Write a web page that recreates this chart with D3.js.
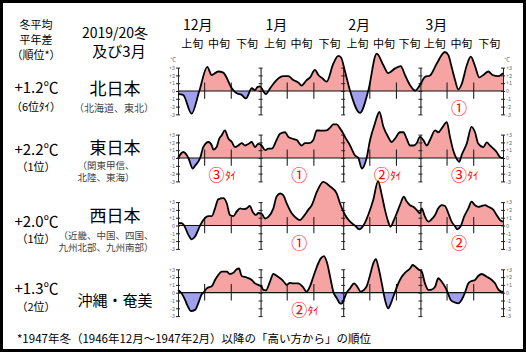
<!DOCTYPE html>
<html><head><meta charset="utf-8">
<script src="https://cdn.jsdelivr.net/npm/d3@7"></script>
<style>body{margin:0;background:#fff}svg{display:block}text{font-family:"Noto Sans CJK JP","Noto Sans",sans-serif}</style>
</head><body><svg id="c" width="526" height="352"></svg>
<script>
// ---- data ----
const months = ["12月","1月","2月","3月"];
const monthStartDays = [0,31,62,91];
const totalDays = 122;
const decadeLabels = ["上旬","中旬","下旬"];
const decadeBoundaryDays = [10,20,41,51,72,82,101,111];
const yTicks = [3,2,1,0,-1,-2,-3];
const headerLines = ["冬平均","平年差","（順位*）"];
const titleLines = ["2019/20冬","及び3月"];
const regionNames = ["北日本","東日本","西日本","沖縄・奄美"];
const regionSubs = [["（北海道、東北）"],["（関東甲信、","北陸、東海）"],["（近畿、中国、四国、","九州北部、九州南部）"],[]];
const anomalies = ["+1.2℃","+2.2℃","+2.0℃","+1.3℃"];
const ranks = ["（6位ﾀｲ）","（1位）","（1位）","（2位）"];
// [month index, circled rank, suffix]
const monthRanks = [
  [[3,"①",""]],
  [[0,"③","ﾀｲ"],[1,"①",""],[2,"②","ﾀｲ"],[3,"③","ﾀｲ"]],
  [[1,"①",""],[3,"②",""]],
  [[1,"②","ﾀｲ"]]
];
const footnote = "*1947年冬（1946年12月～1947年2月）以降の「高い方から」の順位";

// [day from Dec 1, anomaly °C]
const north = [[0,-0.4],[1.9,-0.5],[5.1,-2.9],[8.0,0],[11.0,3.1],[12.6,2.05],[15.1,2.5],[17.0,2.35],[17.6,2.1],[20.2,0.35],[22.0,-0.3],[23.9,-0.5],[25.5,-0.95],[27.7,0.35],[28.9,0.1],[29.8,0.5],[30.8,0.6],[32.0,0],[33.0,-0.4],[34.5,0.3],[37.0,1.4],[39.5,1.9],[41.4,1.9],[43.3,1.4],[45.2,1.07],[46.4,0.7],[48.3,1.4],[49.5,1.7],[51.4,2.7],[52.7,2.05],[54.3,1.6],[55.8,1.2],[58.3,3.5],[60.2,4.5],[61.2,4.3],[62.7,2.5],[64.6,0],[68.3,-2.8],[71.4,0],[74.6,4.8],[77.1,3.3],[78.9,2.3],[81.5,2.9],[83.6,3.2],[85.2,2.05],[87.1,0.75],[89.0,0.05],[90.8,0.75],[92.7,1.8],[94.6,2.0],[97.1,3.5],[100.2,5.0],[101.5,4.6],[102.7,3.1],[104.0,1.4],[105.2,0.2],[106.5,0.9],[108.4,3.3],[109.9,4.4],[111.5,3.2],[113.1,1.75],[114.6,2.05],[116.5,2.5],[118.1,2.05],[120.2,1.9],[122,2.3]];
const east = [[0,0],[2.0,0.77],[3.9,0],[5.5,-1.36],[6.4,-1.0],[8.3,0],[9.5,1.4],[11.4,2.05],[12.7,1.6],[13.3,1.07],[14.5,1.4],[15.5,2.5],[16.4,2.9],[17.6,3.55],[18.9,2.5],[20.2,2.05],[21.4,1.4],[22.6,1.6],[23.9,1.9],[25.2,1.6],[26.4,1.8],[27.7,2.05],[28.9,1.4],[30.1,1.8],[31.4,1.6],[32.7,1.0],[33.9,1.2],[35.2,1.2],[37.0,2.3],[38.3,3.1],[40.2,3.3],[41.4,2.7],[42.7,2.5],[44.6,2.3],[46.4,1.6],[47.7,1.9],[49.3,1.9],[50.8,2.3],[52.1,3.55],[53.9,3.5],[55.8,3.55],[57.1,3.9],[58.3,4.3],[59.6,4.3],[60.8,3.8],[62.1,3.1],[62.7,2.7],[64.6,1.6],[66.4,0.35],[67.7,0],[69.0,-1.36],[70.8,0],[72.1,2.3],[73.9,4.4],[75.6,5.9],[77.1,4.0],[78.9,2.7],[80.2,2.05],[81.5,2.5],[83.3,3.3],[84.6,3.3],[85.8,2.5],[87.1,1.6],[88.3,1.6],[89.6,1.9],[90.8,2.7],[92.1,2.3],[93.4,1.6],[94.6,2.3],[96.5,3.55],[97.7,3.3],[99.0,3.8],[100.9,4.6],[102.1,2.7],[103.3,1.0],[104.6,-0.1],[105.6,-0.5],[106.5,0.4],[108.4,1.85],[110.2,4.0],[111.5,3.3],[112.7,1.85],[114.6,1.4],[115.9,2.0],[117.1,1.6],[118.4,1.2],[119.6,0.77],[120.9,0.1],[122,0]];
const west = [[0,0.3],[1.4,0.3],[2.3,0],[3.9,-1.2],[5.1,-1.77],[6.4,-1.4],[8.3,0],[9.5,0.7],[11.4,1.2],[12.7,1.2],[13.9,2.2],[15.1,3.35],[17.0,3.5],[18.3,2.85],[19.5,1.35],[20.8,1.2],[22.0,1.77],[23.3,2.2],[24.5,2.1],[25.8,2.2],[27.0,2.5],[28.0,1.77],[29.3,1.35],[30.1,1.6],[31.4,1.5],[32.7,0.9],[33.9,1.1],[35.8,2.2],[37.0,3.7],[38.3,4.1],[39.5,3.9],[40.8,2.85],[42.7,1.56],[44.6,0.9],[45.8,0.7],[47.0,1.1],[48.9,2.0],[50.2,2.6],[52.1,4.3],[54.5,5.6],[57.1,5.0],[59.6,4.1],[60.8,2.85],[62.7,1.35],[64.6,0.5],[66.4,0],[68.1,-0.5],[69.6,0],[71.4,1.35],[73.3,3.3],[75.1,5.7],[76.5,3.9],[77.7,2.0],[78.9,0.5],[79.8,-0.15],[80.8,0.5],[82.1,1.56],[83.3,2.6],[84.8,3.7],[85.8,3.1],[87.1,2.6],[88.3,2.4],[89.6,2.0],[90.8,1.56],[91.5,2.2],[92.7,1.13],[94.0,0.5],[95.2,0.8],[96.5,1.35],[97.7,2.2],[99.0,2.6],[100.2,2.5],[101.5,1.56],[102.7,0.5],[104.0,-0.1],[104.8,-0.5],[106.1,-0.1],[107.4,1.13],[109.0,2.2],[110.2,3.05],[111.5,2.6],[112.7,2.4],[114.0,2.5],[115.2,2.6],[116.5,2.4],[118.4,2.0],[119.6,1.35],[120.9,0.7],[122,0.5]];
const okinawa = [[0,0.35],[1.4,-0.1],[2.6,-0.9],[3.9,-1.9],[4.8,-2.35],[6.4,-2.2],[7.6,-1.36],[8.9,-0.2],[9.5,0],[10.8,0.56],[12.7,0.85],[13.9,1.63],[15.1,2.27],[16.4,2.7],[18.3,2.7],[19.5,2.4],[20.8,2.55],[22.0,3.0],[22.9,3.1],[23.9,2.14],[25.8,1.95],[27.7,1.63],[28.9,1.2],[30.1,1.0],[31.4,0.77],[32.0,0.35],[33.0,0.3],[34.5,1.4],[35.8,2.4],[37.3,2.1],[38.9,1.7],[40.2,1.2],[40.8,1.0],[42.0,1.27],[43.3,1.2],[45.2,1.2],[46.8,0.77],[48.3,0.13],[49.5,0.77],[50.8,2.05],[52.1,3.3],[53.6,4.4],[54.8,4.7],[56.0,3.77],[57.1,2.05],[58.3,0.13],[59.6,-0.7],[60.8,-1.36],[61.4,-1.4],[62.1,-1.0],[63.3,0],[64.6,0.56],[66.1,1.2],[67.3,0.77],[68.6,0.13],[69.8,0.35],[70.8,0.8],[72.1,2.27],[73.3,3.77],[74.3,4.3],[75.2,3.3],[76.5,1.2],[77.7,-0.9],[78.9,-2.0],[80.2,-1.1],[81.5,0.13],[82.7,1.2],[84.0,2.05],[85.2,2.55],[87.1,3.1],[88.1,3.55],[89.0,3.35],[90.2,3.0],[91.5,2.7],[92.7,1.2],[94.0,0.35],[95.2,0.4],[96.5,0.77],[97.7,1.85],[99.0,1.4],[100.2,0.77],[101.1,0.13],[102.3,-0.9],[103.5,-1.2],[105.2,-1.36],[106.5,-0.9],[107.7,0],[109.0,1.2],[110.2,1.5],[111.5,1.63],[112.7,2.14],[114.0,2.4],[115.9,2.05],[117.8,1.63],[119.0,1.2],[120.3,0.4],[121.6,0.13],[122,0.13]];
const allSeries = [north, east, west, okinawa];

// ---- layout ----
const W = 526, H = 352;
const svg = d3.select("#c");
svg.append("rect").attr("x",1.5).attr("y",1.5).attr("width",W-3).attr("height",H-3)
  .attr("fill","#fff").attr("stroke","#000").attr("stroke-width",3);
const defs = svg.append("defs");

const x = d3.scaleLinear().domain([0,totalDays]).range([178,503]);
const unit = 7.8;
const zeros = [91,158,225.5,292.7];
const pink = "#f5a3a3", blue = "#a0a0ec", red = "#f00";
const fmt = d => d > 0 ? "+" + d : String(d);

// month headers
svg.selectAll(".mh").data(months).join("text")
  .attr("x",(d,i)=>x(monthStartDays[i])+5).attr("y",30)
  .attr("font-size",14).attr("fill","#000").text(d=>d);
// decade headers
const decadeBounds = [];
monthStartDays.forEach((m,i)=>{
  const end = i<3 ? monthStartDays[i+1] : totalDays;
  const b = [m, m+10, m+20, end];
  for(let k=0;k<3;k++) decadeBounds.push({label:decadeLabels[k], a:b[k], b:b[k+1]});
});
svg.selectAll(".dh").data(decadeBounds).join("text")
  .attr("x",d=>x((d.a+d.b)/2)+1).attr("y",48).attr("text-anchor","middle")
  .attr("font-size",11).attr("fill","#000").text(d=>d.label);

// left header
headerLines.forEach((t,i)=>{
  svg.append("text").attr("x",36).attr("y",[29,43.5,58.5][i]).attr("text-anchor","middle")
    .attr("font-size",11).attr("fill","#000").text(t);
});
titleLines.forEach((t,i)=>{
  svg.append("text").attr("x",[115,119][i]).attr("y",[38,57][i]).attr("text-anchor","middle")
    .attr("font-size",[14,15][i]).attr("fill","#000").text(t);
});

const anomY = [93,155,226.5,294];
const rankY = [111,171,242.5,311];
const nameY = [95,153.5,222,306];
const subYs = [[112],[168.5,181],[238.5,251],[]];

allSeries.forEach((s,i)=>{
  const z = zeros[i];
  const y = d3.scaleLinear().domain([-3,3]).range([z+3*unit, z-3*unit]);
  const g = svg.append("g");
  const idA = "ca"+i, idB = "cb"+i;
  defs.append("clipPath").attr("id",idA).append("rect")
    .attr("x",x(0)).attr("y",y(8)).attr("width",x(totalDays)-x(0)).attr("height",y(0)-y(8));
  defs.append("clipPath").attr("id",idB).append("rect")
    .attr("x",x(0)).attr("y",y(0)).attr("width",x(totalDays)-x(0)).attr("height",y(-8)-y(0));
  const area = d3.area().x(d=>x(d[0])).y0(y(0)).y1(d=>y(d[1])).curve(d3.curveMonotoneX);
  g.append("path").datum(s).attr("d",area).attr("fill",pink).attr("clip-path",`url(#${idA})`);
  g.append("path").datum(s).attr("d",area).attr("fill",blue).attr("clip-path",`url(#${idB})`);

  // zero line
  g.append("line").attr("x1",x(0)).attr("x2",x(totalDays)).attr("y1",y(0)).attr("y2",y(0))
    .attr("stroke","#111").attr("stroke-width",1.2);

  // decade ticks
  decadeBoundaryDays.forEach(d=>{
    g.append("line").attr("x1",x(d)).attr("x2",x(d)).attr("y1",y(1.1)).attr("y2",y(-1))
      .attr("stroke","#222").attr("stroke-width",1.1);
  });

  // month boundaries (with ticks both sides)
  [31,62,91].forEach(d=>{
    const ax = g.append("g").attr("transform",`translate(${x(d)},0)`)
      .call(d3.axisLeft(y).tickValues(yTicks).tickSize(2).tickSizeOuter(0).tickFormat(""));
    ax.selectAll(".tick line").attr("x2",2).attr("x1",-2).attr("stroke","#222");
    ax.select(".domain").attr("stroke","#222").attr("stroke-width",1.1);
  });

  // left axis
  const la = g.append("g").attr("transform",`translate(${x(0)},0)`)
    .call(d3.axisLeft(y).tickValues(yTicks).tickSize(2).tickSizeOuter(0).tickFormat(fmt).tickPadding(1));
  la.selectAll(".tick line").attr("x1",-2).attr("x2",2).attr("stroke","#222");
  la.selectAll(".tick text").attr("font-size",5.5).attr("fill","#666").attr("font-family","Arial, 'Liberation Sans', sans-serif");
  la.select(".domain").attr("stroke","#222");
  // right axis
  const ra = g.append("g").attr("transform",`translate(${x(totalDays)},0)`)
    .call(d3.axisRight(y).tickValues(yTicks).tickSize(2).tickSizeOuter(0).tickFormat(fmt).tickPadding(1));
  ra.selectAll(".tick line").attr("x1",-2).attr("x2",2).attr("stroke","#222");
  ra.selectAll(".tick text").attr("font-size",5.5).attr("fill","#666").attr("font-family","Arial, 'Liberation Sans', sans-serif");
  ra.select(".domain").attr("stroke","#222");
  if(i===0){
    g.append("text").attr("x",x(0)-2).attr("y",y(3)-6).attr("text-anchor","end")
      .attr("font-size",6).attr("fill","#666").text("°C");
    g.append("text").attr("x",x(totalDays)+1).attr("y",y(3)-6)
      .attr("font-size",6).attr("fill","#666").text("°C");
  }

  // curve
  const line = d3.line().x(d=>x(d[0])).y(d=>y(d[1])).curve(d3.curveMonotoneX);
  g.append("path").datum(s).attr("d",line).attr("fill","none").attr("stroke","#000")
    .attr("stroke-width",1.8).attr("stroke-linejoin","round");

  // monthly ranks
  monthRanks[i].forEach(([m,c,suf])=>{
    const cx = x(monthStartDays[m]+14.5);
    g.append("text").attr("x",cx).attr("y",y(-2.1)).attr("dominant-baseline","central")
      .attr("text-anchor","middle").attr("font-size",16).attr("fill",red).text(c);
    if(suf) g.append("text").attr("x",cx+8.5).attr("y",y(-2.1)+1).attr("dominant-baseline","central")
      .attr("font-size",11).attr("fill",red).text(suf);
  });

  // left labels
  svg.append("text").attr("x",36.5).attr("y",anomY[i]).attr("text-anchor","middle")
    .attr("font-size",15).attr("fill","#000").text(anomalies[i]);
  svg.append("text").attr("x",36).attr("y",rankY[i]).attr("text-anchor","middle")
    .attr("font-size",11).attr("fill","#000").text(ranks[i]);
  svg.append("text").attr("x",115).attr("y",nameY[i]).attr("text-anchor","middle")
    .attr("font-size",i===3?15:17).attr("fill","#000").text(regionNames[i]);
  regionSubs[i].forEach((t,k)=>{
    svg.append("text").attr("x",i===0?114:106).attr("y",subYs[i][k]).attr("text-anchor","middle")
      .attr("font-size",i===0?10:9.5).attr("fill","#444").text(t);
  });
});

svg.append("text").attr("x",17).attr("y",343).attr("font-size",11.5).attr("fill","#000").text(footnote);
</script></body></html>
